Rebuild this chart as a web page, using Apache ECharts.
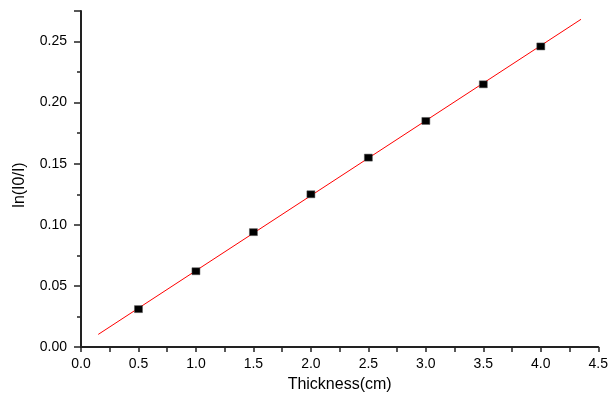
<!DOCTYPE html>
<html><head><meta charset="utf-8">
<script src="https://cdn.jsdelivr.net/npm/echarts@6/dist/echarts.min.js"></script>
<style>html,body{margin:0;padding:0;background:#fff}#c{width:611px;height:398px}</style>
</head><body><div id="c"></div>
<script>
const thickness = [0.5, 1.0, 1.5, 2.0, 2.5, 3.0, 3.5, 4.0];
const lnRatio = [0.031, 0.062, 0.094, 0.125, 0.155, 0.185, 0.215, 0.246];
const fitX = [0.15, 4.35];
const fitY = [0.0103, 0.2682];
const xTitle = 'Thickness(cm)';
const yTitle = 'ln(I0/I)';

const font = 'Liberation Sans, Arial, sans-serif';
const chart = echarts.init(document.getElementById('c'), null, {renderer: 'canvas'});
chart.setOption({
  animation: false,
  backgroundColor: '#fff',
  grid: {left: 81, right: 11, top: 11, bottom: 49, containLabel: false},
  xAxis: {
    type: 'value', min: 0, max: 4.5, interval: 0.5,
    name: xTitle, nameLocation: 'middle', nameGap: 30,
    nameTextStyle: {fontFamily: font, fontSize: 16, color: '#000'},
    axisLine: {show: true, onZero: false, lineStyle: {color: '#222', width: 2}},
    axisTick: {show: true, length: 5, lineStyle: {color: '#222', width: 1.5}},
    minorTick: {show: true, splitNumber: 2, length: 5, lineStyle: {color: '#222', width: 1.5}},
    axisLabel: {fontFamily: font, fontSize: 14, color: '#000', margin: 10,
      formatter: v => v.toFixed(1)},
    splitLine: {show: false}
  },
  yAxis: [{
    type: 'value', min: 0, max: 0.275, interval: 0.05,
    name: yTitle, nameLocation: 'middle', nameGap: 53, nameRotate: 90,
    nameTextStyle: {fontFamily: font, fontSize: 16, color: '#000', padding: [0, 12, 0, 0]},
    axisLine: {show: true, onZero: false, lineStyle: {color: '#222', width: 2}},
    axisTick: {show: true, length: 7, lineStyle: {color: '#222', width: 1.5}},
    axisLabel: {fontFamily: font, fontSize: 14, color: '#000', margin: 14,
      formatter: v => (Math.abs(v / 0.05 - Math.round(v / 0.05)) < 1e-6 ? v.toFixed(2) : '')},
    splitLine: {show: false}
  }, {
    type: 'value', min: 0, max: 0.275, interval: 0.025, position: 'left',
    axisLine: {show: false},
    axisTick: {show: true, length: 4, lineStyle: {color: '#222', width: 1.5}},
    axisLabel: {show: false},
    splitLine: {show: false}
  }],
  series: [{
    type: 'line', yAxisIndex: 0,
    data: fitX.map((x, i) => [x, fitY[i]]),
    showSymbol: false, symbol: 'none',
    lineStyle: {color: '#ff0000', width: 1}, z: 2
  }, {
    type: 'scatter', yAxisIndex: 0,
    data: thickness.map((x, i) => [x, lnRatio[i]]),
    symbol: 'rect', symbolSize: [8, 7],
    itemStyle: {color: '#000', borderColor: '#555', borderWidth: 0.5, opacity: 1}, z: 3
  }]
});
</script></body></html>
